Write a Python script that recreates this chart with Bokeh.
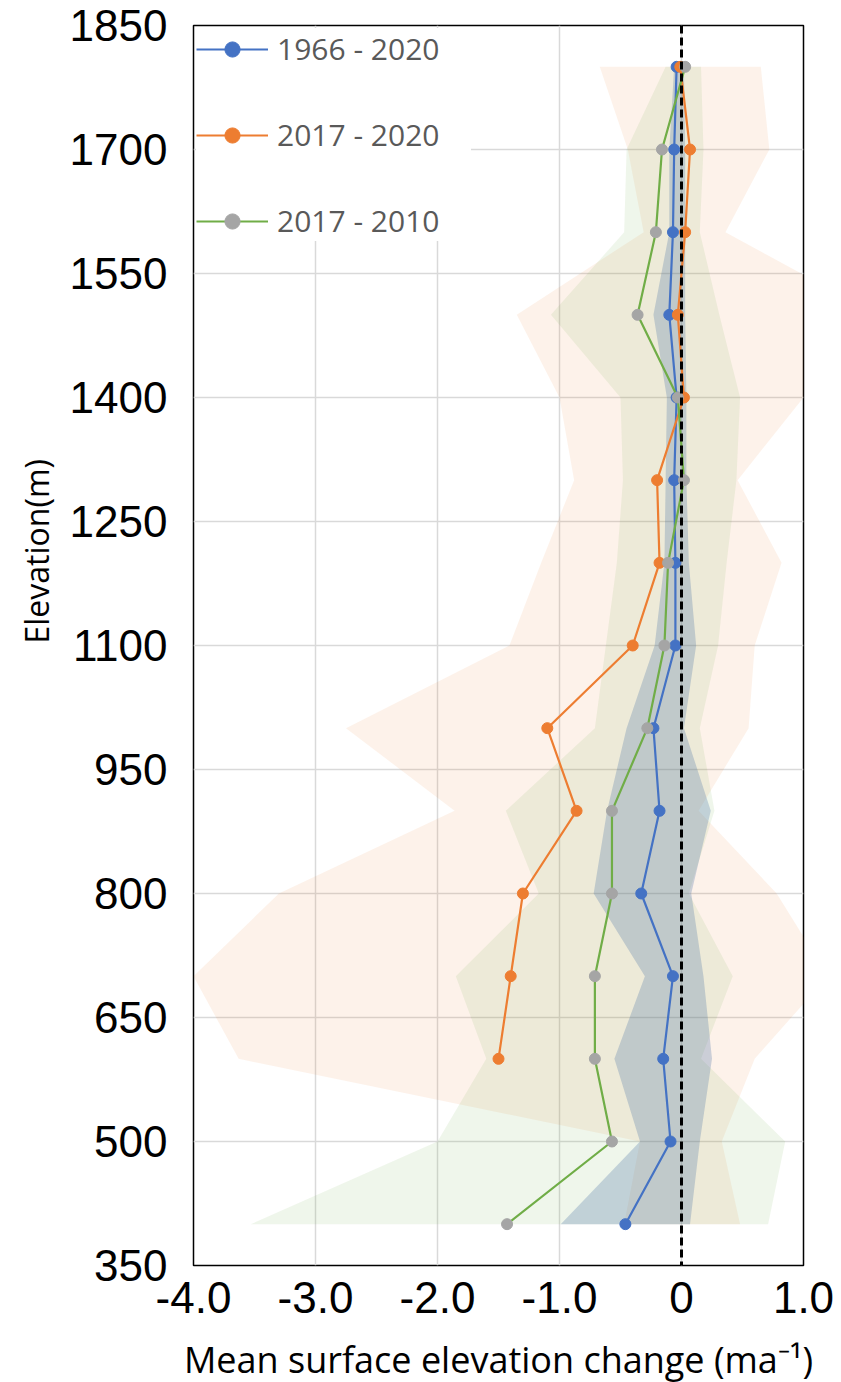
from bokeh.embed import file_html
from bokeh.models import FixedTicker, Legend, LegendItem, Range1d, Span, Title
from bokeh.plotting import figure
from bokeh.resources import INLINE

# Elevation bins (m) and mean surface elevation change (m a^-1)
elev = [1800, 1700, 1600, 1500, 1400, 1300, 1200, 1100, 1000, 900, 800, 700, 600, 500, 400]
elev_recent = elev[:13]  # 2017-2020 has no values below 600 m

dh_1966_2020 = [-0.04, -0.06, -0.07, -0.10, -0.04, -0.06, -0.05, -0.05, -0.23, -0.18, -0.33, -0.07, -0.15, -0.09, -0.46]
dh_2017_2020 = [-0.01, 0.07, 0.03, -0.03, 0.02, -0.20, -0.18, -0.40, -1.10, -0.86, -1.30, -1.40, -1.50]
dh_2017_2010 = [0.03, -0.16, -0.21, -0.36, -0.03, 0.02, -0.11, -0.14, -0.28, -0.57, -0.57, -0.71, -0.71, -0.57, -1.43]

# Uncertainty envelopes (lower / upper bound per elevation bin)
band_1966_2020_lo = [-0.06, -0.10, -0.10, -0.23, -0.12, -0.13, -0.14, -0.22, -0.45, -0.61, -0.72, -0.30, -0.55, -0.34, -0.99]
band_1966_2020_hi = [0.02, 0.03, 0.03, 0.03, 0.04, 0.04, 0.06, 0.12, 0.02, 0.24, 0.08, 0.18, 0.25, 0.15, 0.07]
band_2017_2020_lo = [-0.67, -0.44, -0.31, -1.35, -1.00, -0.88, -1.15, -1.41, -2.75, -1.86, -3.30, -4.00, -3.63, -0.34, -0.47]
band_2017_2020_hi = [0.65, 0.72, 0.36, 1.60, 1.00, 0.46, 0.82, 0.60, 0.55, 0.14, 0.78, 1.20, 0.60, 0.33, 0.48]
band_2017_2010_lo = [-0.13, -0.45, -0.47, -1.07, -0.50, -0.48, -0.53, -0.62, -0.71, -1.44, -1.17, -1.85, -1.60, -2.00, -3.53]
band_2017_2010_hi = [0.16, 0.18, 0.15, 0.31, 0.48, 0.45, 0.37, 0.30, 0.15, 0.27, 0.06, 0.42, 0.16, 0.85, 0.71]

series_labels = ["1966 - 2020", "2017 - 2020", "2017 - 2010"]
x_ticks = [-4, -3, -2, -1, 0, 1]
x_tick_labels = ["-4.0", "-3.0", "-2.0", "-1.0", "0", "1.0"]
y_ticks = [350, 500, 650, 800, 950, 1100, 1250, 1400, 1550, 1700, 1850]

BLUE = "#4472C4"
BAND_BLUE = "#4B73A5"
ORANGE = "#ED7D31"
GREEN = "#70AD47"
GREY = "#A5A5A5"
FONT = "Open Sans"
TICK_FONT = "Liberation Sans"

p = figure(
    frame_width=610, frame_height=1240,
    min_border_left=193, min_border_right=38, min_border_top=25, min_border_bottom=117,
    x_range=Range1d(-4, 1), y_range=Range1d(350, 1850),
    output_backend="svg", toolbar_location=None,
    background_fill_color="white", border_fill_color="white",
)

# Shaded envelopes
p.harea(y=elev, x1=band_2017_2020_lo, x2=band_2017_2020_hi, fill_color=ORANGE, fill_alpha=0.10)
p.harea(y=elev, x1=band_2017_2010_lo, x2=band_2017_2010_hi, fill_color=GREEN, fill_alpha=0.11)
p.harea(y=elev, x1=band_1966_2020_lo, x2=band_1966_2020_hi, fill_color=BAND_BLUE, fill_alpha=0.28)

# Profiles
l1 = p.line(dh_1966_2020, elev, line_color=BLUE, line_width=2.2)
s1 = p.scatter(dh_1966_2020, elev, marker="circle", size=11, fill_color=BLUE, line_color=BLUE)
l2 = p.line(dh_2017_2020, elev_recent, line_color=ORANGE, line_width=2.2)
s2 = p.scatter(dh_2017_2020, elev_recent, marker="circle", size=11, fill_color=ORANGE, line_color=ORANGE)
l3 = p.line(dh_2017_2010, elev, line_color=GREEN, line_width=2.2)
s3 = p.scatter(dh_2017_2010, elev, marker="circle", size=11, fill_color=GREY, line_color=GREY)

# Zero reference
p.add_layout(Span(location=0, dimension="height", line_color="black", line_width=3, line_dash="8 4"))

legend = Legend(
    items=[
        LegendItem(label=series_labels[0], renderers=[l1, s1]),
        LegendItem(label=series_labels[1], renderers=[l2, s2]),
        LegendItem(label=series_labels[2], renderers=[l3, s3]),
    ],
    location="top_left",
    label_text_font=FONT, label_text_font_size="30px", label_text_color="#595959",
    glyph_width=72, glyph_height=38, label_height=38, label_width=194,
    label_standoff=9, spacing=45, padding=2, margin=3,
    border_line_color=None, background_fill_color="white", background_fill_alpha=1.0,
)
p.add_layout(legend)

# Axes
p.xaxis.ticker = FixedTicker(ticks=x_ticks)
p.xaxis.major_label_overrides = dict(zip(x_ticks, x_tick_labels))
p.yaxis.ticker = FixedTicker(ticks=y_ticks)
for ax in (p.xaxis, p.yaxis):
    ax.axis_line_color = None
    ax.major_tick_line_color = None
    ax.minor_tick_line_color = None
    ax.major_label_text_font = TICK_FONT
    ax.major_label_text_font_size = "44px"
    ax.major_label_text_color = "black"
p.yaxis.major_label_standoff = 20
p.xaxis.major_label_standoff = 10

p.xaxis.axis_label = "Mean surface elevation change (ma\u207b\u00b9)"
p.xaxis.axis_label_text_font = FONT
p.xaxis.axis_label_text_font_size = "36px"
p.xaxis.axis_label_text_font_style = "normal"
p.xaxis.axis_label_text_color = "black"
p.xaxis.axis_label_standoff = 19

# Vertical axis title, placed above the frame's middle
p.add_layout(Title(
    text="Elevation(m)", align="left", offset=622, standoff=18,
    text_font=FONT, text_font_size="32px", text_font_style="normal", text_color="black",
), "left")

p.xgrid.grid_line_color = "#D9D9D9"
p.ygrid.grid_line_color = "#D9D9D9"
p.xgrid.grid_line_width = 1.5
p.ygrid.grid_line_width = 1.5

p.outline_line_color = "black"
p.outline_line_width = 1.5

open("out.html", "w").write(file_html(p, INLINE))
